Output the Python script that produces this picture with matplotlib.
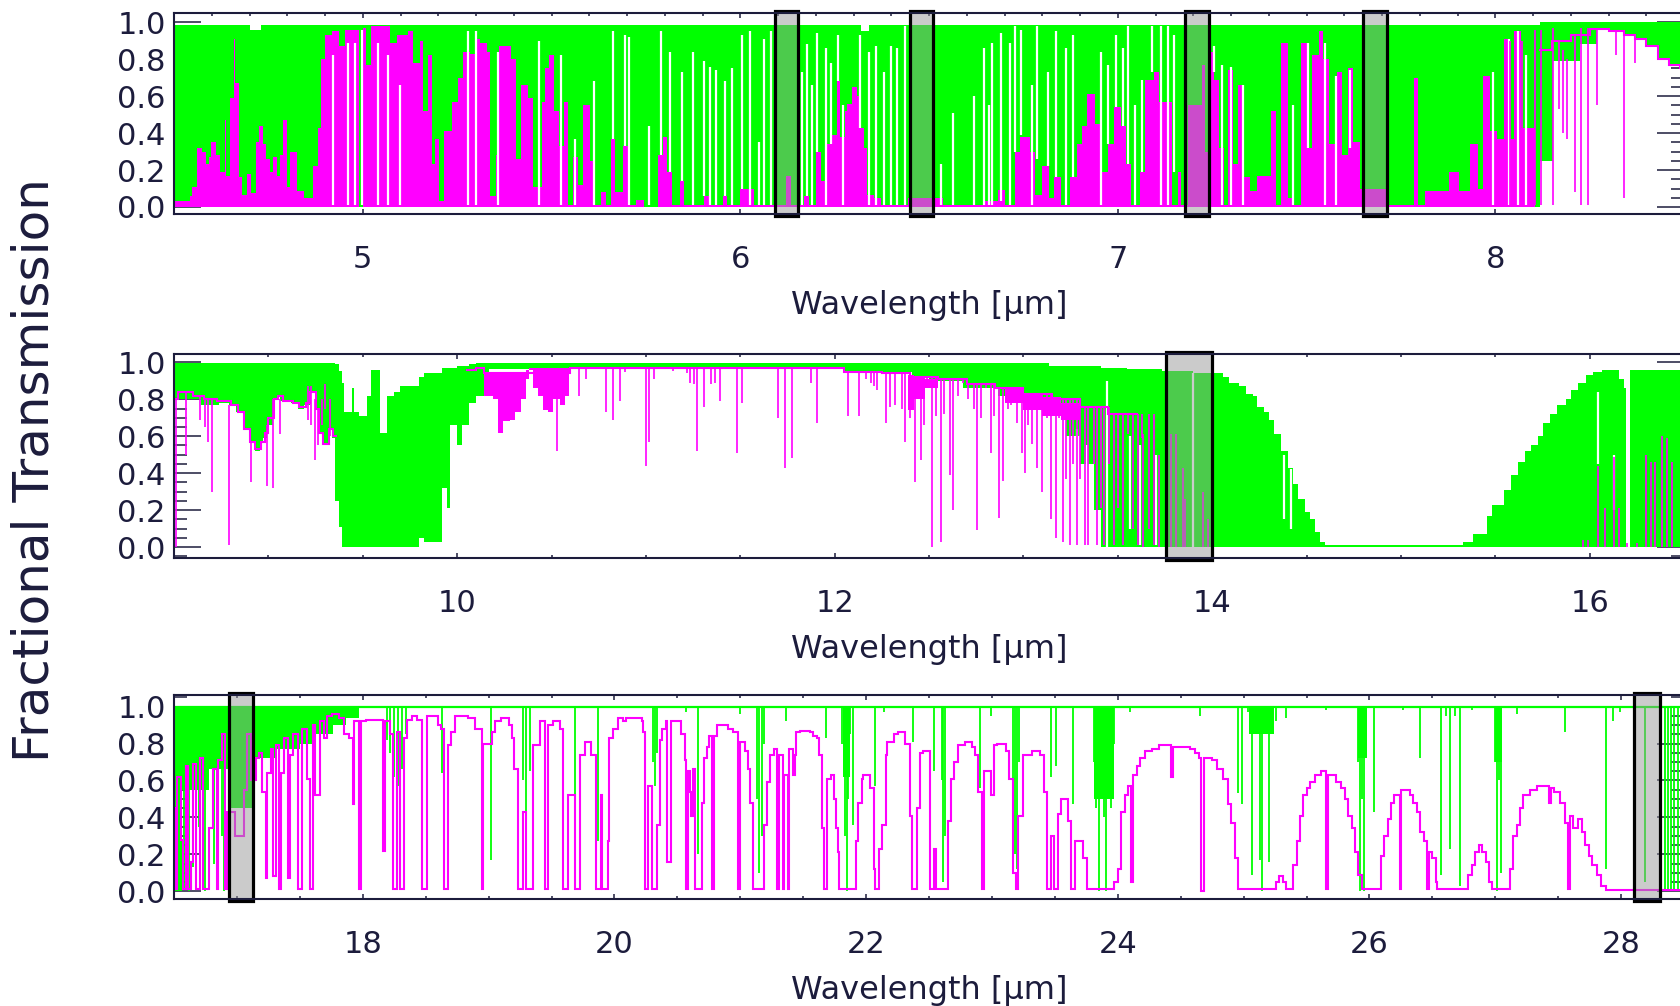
import numpy as np
import matplotlib
matplotlib.use("Agg")
import matplotlib.pyplot as plt
from matplotlib.patches import Rectangle
from matplotlib.ticker import MultipleLocator, FormatStrFormatter
import matplotlib.transforms as mtransforms

nan = np.nan
GREEN = '#00ff00'
MAGENTA = '#ff00ff'
INK = '#1c1c3c'

# ---------------------------------------------------------------- panel 1 (4.5 - 8.5 um)
P1_XLIM = (4.5, 8.5)
# green (dense) band: wavelength, lower, upper (step-post)
P1_GREEN_BAND = [(4.50, 0.0, 0.985), (4.70, 0.0, 0.96), (4.73, 0.0, 0.985), (6.32, 0.0, 0.95),
                 (6.34, 0.0, 0.985), (8.119, 0.25, 1.0), (8.154, 0.79, 1.0), (8.224, 0.88, 1.0),
                 (8.269, 0.96, 1.0), (8.30, 0.955, 1.0), (8.34, 0.93, 1.0), (8.37, 0.91, 1.0),
                 (8.40, 0.87, 1.0), (8.43, 0.80, 1.0), (8.46, 0.77, 1.0), (8.50, 0.75, 1.0)]
# magenta (dense) band: wavelength, upper value (from 0, step-post)
P1_MAGENTA_BAND = [
    (4.500, 0.03), (4.543, 0.06), (4.548, 0.11), (4.562, 0.32), (4.575, 0.30), (4.584, 0.23), (4.594, 0.27),
    (4.598, 0.35), (4.612, 0.28), (4.621, 0.19), (4.635, 0.47), (4.639, 0.165), (4.648, 0.59), (4.658, 0.91),
    (4.662, 0.67), (4.671, 0.16), (4.680, 0.066), (4.694, 0.18), (4.703, 0.075), (4.717, 0.35), (4.726, 0.44),
    (4.735, 0.34), (4.744, 0.26), (4.753, 0.19), (4.763, 0.27), (4.772, 0.17), (4.781, 0.28), (4.790, 0.47),
    (4.799, 0.11), (4.808, 0.30), (4.826, 0.084), (4.845, 0.05), (4.868, 0.22), (4.881, 0.43), (4.890, 0.80),
    (4.900, 0.93), (4.918, 0.955), (4.936, 0.87), (4.954, 0.96), (4.991, 0.0), (5.000, 0.97), (5.009, 0.77),
    (5.023, 0.98), (5.073, 0.89), (5.091, 0.93), (5.119, 0.955), (5.132, 0.78), (5.151, 0.90), (5.160, 0.52),
    (5.174, 0.82), (5.183, 0.23), (5.192, 0.37), (5.201, 0.03), (5.215, 0.41), (5.237, 0.57), (5.251, 0.70),
    (5.265, 0.84), (5.283, 0.83), (5.297, 0.91), (5.311, 0.89), (5.329, 0.84), (5.338, 0.06), (5.352, 0.28),
    (5.361, 0.87), (5.393, 0.80), (5.406, 0.26), (5.420, 0.66), (5.438, 0.59), (5.452, 0.11), (5.475, 0.57),
    (5.484, 0.75), (5.493, 0.82), (5.507, 0.52), (5.521, 0.33), (5.534, 0.57), (5.543, 0.01), (5.557, 0.27),
    (5.571, 0.12), (5.584, 0.55), (5.603, 0.25), (5.616, 0.01), (5.630, 0.08), (5.644, 0.01), (5.658, 0.37),
    (5.667, 0.08), (5.689, 0.33), (5.703, 0.01),
    (5.723, 0.04), (5.745, 0.0), (5.782, 0.28), (5.795, 0.38), (5.805, 0.19), (5.818, 0.01), (5.841, 0.14),
    (5.850, 0.01), (5.905, 0.06), (5.918, 0.01), (5.955, 0.06), (5.964, 0.01), (6.000, 0.10), (6.036, 0.01),
    (6.120, 0.17), (6.135, 0.01), (6.168, 0.06), (6.182, 0.01), (6.200, 0.30), (6.214, 0.14), (6.227, 0.34),
    (6.241, 0.39), (6.255, 0.68), (6.264, 0.38), (6.277, 0.52), (6.282, 0.56), (6.295, 0.65), (6.309, 0.60),
    (6.318, 0.43), (6.327, 0.32), (6.336, 0.066), (6.355, 0.05), (6.373, 0.01), (6.445, 0.05), (6.536, 0.01),
    (6.645, 0.03), (6.682, 0.09), (6.700, 0.01), (6.727, 0.30), (6.741, 0.38), (6.768, 0.30), (6.782, 0.066),
    (6.800, 0.22), (6.818, 0.05), (6.832, 0.16), (6.850, 0.01), (6.873, 0.16), (6.891, 0.34), (6.905, 0.44),
    (6.918, 0.61), (6.941, 0.45), (6.955, 0.19), (6.973, 0.34), (6.991, 0.54), (7.009, 0.44), (7.023, 0.23),
    (7.036, 0.01), (7.059, 0.19), (7.073, 0.69),
    (7.095, 0.73), (7.109, 0.57), (7.145, 0.01), (7.159, 0.19), (7.168, 0.01), (7.186, 0.55), (7.223, 0.77),
    (7.232, 0.30), (7.241, 0.84), (7.255, 0.69), (7.268, 0.32), (7.282, 0.01), (7.291, 0.74), (7.305, 0.23),
    (7.318, 0.66), (7.332, 0.16), (7.350, 0.084), (7.368, 0.17), (7.405, 0.52), (7.418, 0.01), (7.432, 0.89),
    (7.450, 0.05), (7.468, 0.01), (7.486, 0.89), (7.500, 0.32), (7.514, 0.82), (7.532, 0.955), (7.545, 0.80),
    (7.559, 0.34), (7.582, 0.73), (7.595, 0.28), (7.609, 0.75), (7.623, 0.35), (7.641, 0.10), (7.714, 0.01),
    (7.786, 0.70), (7.795, 0.01), (7.814, 0.084), (7.877, 0.19), (7.905, 0.084), (7.932, 0.34), (7.955, 0.10),
    (7.968, 0.71), (7.986, 0.41), (8.005, 0.37), (8.023, 0.91), (8.036, 0.37), (8.050, 0.95), (8.068, 0.43),
    (8.105, 0.0)]
# white gaps in the dense bands: wavelength, top, bottom
P1_GAPS = [
    (4.921, 0.82, 0.01), (4.961, 0.89, 0.01), (4.980, 0.89, 0.01), (4.997, 0.96, 0.01), (5.041, 0.89, 0.01),
    (5.067, 0.82, 0.01), (5.100, 0.66, 0.01), (5.279, 0.95, 0.01), (5.301, 0.955, 0.01), (5.358, 0.84, 0.01),
    (5.466, 0.90, 0.01), (5.525, 0.82, 0.01), (5.562, 0.37, 0.01), (5.612, 0.68, 0.01), (5.662, 0.95, 0.37),
    (5.694, 0.93, 0.33), (5.705, 0.92, 0.01), (5.759, 0.44, 0.01), (5.791, 0.955, 0.28), (5.814, 0.84, 0.19),
    (5.845, 0.73, 0.14), (5.875, 0.84, 0.01), (5.905, 0.79, 0.06), (5.920, 0.76, 0.01), (5.936, 0.74, 0.01),
    (5.959, 0.68, 0.06), (5.977, 0.75, 0.01), (6.005, 0.93, 0.10), (6.027, 0.955, 0.01), (6.050, 0.35, 0.01),
    (6.064, 0.91, 0.01), (6.082, 0.955, 0.01), (6.164, 0.73, 0.01), (6.177, 0.88, 0.057), (6.191, 0.66, 0.01),
    (6.202, 0.94, 0.30), (6.227, 0.86, 0.01), (6.241, 0.78, 0.34), (6.259, 0.93, 0.68), (6.273, 0.55, 0.01),
    (6.318, 0.93, 0.43), (6.341, 0.84, 0.01), (6.359, 0.87, 0.01), (6.382, 0.73, 0.01), (6.400, 0.87, 0.01),
    (6.414, 0.86, 0.01), (6.436, 0.98, 0.01), (6.532, 0.23, 0.01), (6.564, 0.51, 0.01), (6.618, 0.60, 0.01),
    (6.645, 0.86, 0.01), (6.659, 0.55, 0.01), (6.668, 0.89, 0.01), (6.691, 0.94, 0.03), (6.714, 0.89, 0.01),
    (6.727, 0.98, 0.30), (6.745, 0.96, 0.39), (6.773, 0.66, 0.01), (6.786, 0.98, 0.26), (6.814, 0.73, 0.22),
    (6.836, 0.955, 0.16), (6.864, 0.86, 0.01), (6.882, 0.93, 0.16), (6.955, 0.84, 0.01), (6.973, 0.77, 0.34),
    (6.995, 0.93, 0.54), (7.014, 0.86, 0.44), (7.027, 0.98, 0.23), (7.045, 0.55, 0.01), (7.064, 0.69, 0.19),
    (7.091, 0.98, 0.73), (7.114, 0.98, 0.01), (7.134, 0.98, 0.01), (7.150, 0.93, 0.19), (7.255, 0.87, 0.73),
    (7.277, 0.77, 0.01), (7.300, 0.76, 0.01), (7.332, 0.66, 0.01), (7.464, 0.55, 0.01), (7.505, 0.89, 0.32),
    (7.550, 0.89, 0.01), (7.577, 0.71, 0.01), (7.614, 0.74, 0.32), (7.995, 0.73, 0.01), (8.036, 0.91, 0.01),
    (8.059, 0.95, 0.01), (8.082, 0.82, 0.01)]
# magenta continuum beyond 8.1 um and its absorption lines
P1_MAGENTA_LINE = [(8.119, 0.85), (8.15, 0.90), (8.20, 0.93), (8.25, 0.965), (8.30, 0.955), (8.34, 0.93),
                   (8.37, 0.91), (8.40, 0.87), (8.43, 0.80), (8.46, 0.77), (8.49, 0.75), (8.50, 0.75)]
P1_MAGENTA_SPIKES = [(8.039, 0.01, 0.90), (8.07, 0.03, 0.90), (8.105, 0.01, 0.96), (8.12, 0.01, 0.96),
                     (8.154, 0.01, 0.97), (8.17, 0.53, 0.90), (8.18, 0.40, 0.85), (8.19, 0.37, 0.80),
                     (8.21, 0.08, 0.93), (8.226, 0.01, 0.97), (8.245, 0.01, 0.97), (8.27, 0.55, 0.96),
                     (8.32, 0.82, 0.95), (8.34, 0.05, 0.94), (8.37, 0.78, 0.91)]
P1_BOXES = [(6.093, 6.153), (6.450, 6.510), (7.178, 7.242), (7.650, 7.712)]

# ---------------------------------------------------------------- panel 2 (8.5 - 16.5 um)
P2_XLIM = (8.5, 16.5)
P2_GREEN_BAND = [
    (8.50, 0.80, 0.995), (8.645, 0.77, 0.995), (8.736, 0.78, 0.995), (8.791, 0.77, 0.995), (8.827, 0.73, 0.995),
    (8.864, 0.64, 0.995), (8.900, 0.57, 0.995), (8.927, 0.52, 0.995), (8.955, 0.57, 0.995), (8.973, 0.59, 0.995),
    (8.991, 0.66, 0.995), (9.027, 0.80, 0.995), (9.045, 0.82, 0.995), (9.064, 0.79, 0.995), (9.118, 0.78, 0.995),
    (9.155, 0.75, 0.995), (9.191, 0.77, 0.995), (9.218, 0.84, 0.995), (9.245, 0.75, 0.995), (9.264, 0.62, 0.995),
    (9.282, 0.55, 0.995), (9.318, 0.64, 0.995), (9.336, 0.59, 0.995), (9.355, 0.25, 0.99), (9.373, 0.11, 0.955),
    (9.391, 0.0, 0.89), (9.400, 0.0, 0.73), (9.445, 0.0, 0.86), (9.455, 0.0, 0.73), (9.482, 0.0, 0.71),
    (9.520, 0.0, 0.82), (9.545, 0.0, 0.96), (9.591, 0.0, 0.62), (9.627, 0.0, 0.82), (9.664, 0.0, 0.84),
    (9.700, 0.0, 0.87), (9.800, 0.05, 0.92), (9.827, 0.03, 0.94), (9.918, 0.32, 0.97), (9.945, 0.21, 0.97),
    (9.964, 0.66, 0.97), (10.000, 0.55, 0.98), (10.027, 0.66, 0.98), (10.064, 0.78, 0.99), (10.100, 0.82, 0.995),
    (10.145, 0.86, 0.995), (10.170, 0.965, 0.995), (12.045, 0.95, 0.995), (12.409, 0.92, 0.995),
    (12.500, 0.90, 0.995), (12.682, 0.86, 0.995), (12.864, 0.82, 0.995), (13.045, 0.77, 0.995),
    (13.136, 0.72, 0.98), (13.227, 0.60, 0.98), (13.300, 0.45, 0.98), (13.373, 0.20, 0.98), (13.409, 0.0, 0.97),
    (13.55, 0.0, 0.965), (13.736, 0.0, 0.955), (13.90, 0.0, 0.94), (14.055, 0.0, 0.92), (14.091, 0.0, 0.89),
    (14.145, 0.0, 0.87), (14.182, 0.0, 0.83), (14.218, 0.0, 0.82), (14.236, 0.0, 0.76), (14.273, 0.0, 0.73),
    (14.300, 0.0, 0.69), (14.327, 0.0, 0.61), (14.364, 0.0, 0.52), (14.400, 0.0, 0.43), (14.427, 0.0, 0.34),
    (14.455, 0.0, 0.26), (14.491, 0.0, 0.19), (14.518, 0.0, 0.15), (14.545, 0.0, 0.08), (14.573, 0.0, 0.03),
    (14.600, 0.0, 0.012), (15.327, 0.0, 0.03), (15.382, 0.0, 0.07), (15.455, 0.0, 0.17), (15.482, 0.0, 0.23),
    (15.545, 0.0, 0.31), (15.582, 0.0, 0.39), (15.618, 0.0, 0.46), (15.655, 0.0, 0.52), (15.691, 0.0, 0.55),
    (15.727, 0.0, 0.60), (15.755, 0.0, 0.67), (15.791, 0.0, 0.72), (15.827, 0.0, 0.77), (15.873, 0.0, 0.80),
    (15.900, 0.0, 0.85), (15.936, 0.0, 0.89), (15.982, 0.0, 0.93), (16.018, 0.0, 0.95), (16.064, 0.0, 0.96),
    (16.155, 0.0, 0.91), (16.182, 0.0, 0.86), (16.195, 0.0, 0.0), (16.212, 0.0, 0.96), (16.50, 0.0, 0.96)]
P2_GAPS = [(13.282, 0.64, 0.45), (13.336, 0.55, 0.28), (13.445, 0.90, 0.0), (13.564, 0.60, 0.10),
           (13.618, 0.55, 0.01), (13.70, 0.50, 0.01), (13.90, 0.94, 0.0), (14.38, 0.50, 0.15),
           (14.418, 0.42, 0.10), (16.045, 0.84, 0.45), (16.127, 0.50, 0.20)]
P2_MAGENTA_LINE = [
    (8.50, 0.80), (8.52, 0.84), (8.60, 0.82), (8.66, 0.80), (8.73, 0.79), (8.80, 0.77), (8.84, 0.73),
    (8.87, 0.64), (8.90, 0.57), (8.93, 0.53), (8.96, 0.57), (8.98, 0.62), (9.00, 0.70), (9.03, 0.80),
    (9.05, 0.82), (9.08, 0.79), (9.13, 0.78), (9.16, 0.76), (9.20, 0.78), (9.22, 0.84), (9.25, 0.75),
    (9.27, 0.62), (9.29, 0.56), (9.32, 0.64), (9.34, 0.60), (9.36, nan),
    (10.05, 0.96), (10.10, 0.97), (10.145, 0.94), (10.60, 0.97), (12.00, 0.97), (12.05, 0.95), (12.25, 0.94),
    (12.40, 0.92), (12.55, 0.91), (12.70, 0.88), (12.85, 0.86), (13.00, 0.83), (13.15, 0.80), (13.30, 0.76),
    (13.45, 0.72), (13.60, nan)]
P2_MAGENTA_BAND = [
    (10.145, 0.82, 0.94), (10.191, 0.80, 0.94), (10.218, 0.62, 0.94), (10.245, 0.68, 0.94), (10.282, 0.69, 0.94),
    (10.309, 0.73, 0.95), (10.336, 0.80, 0.95), (10.364, 0.91, 0.96), (10.382, 0.96, 0.97), (10.400, 0.86, 0.97),
    (10.427, 0.82, 0.97), (10.455, 0.74, 0.97), (10.482, 0.73, 0.97), (10.509, 0.80, 0.97), (10.545, 0.77, 0.97),
    (10.573, 0.82, 0.97), (10.591, 0.97, 0.97), (nan, nan, nan),
    (12.39, 0.74, 0.93), (12.42, 0.80, 0.92), (12.48, 0.86, 0.91), (12.55, 0.86, 0.91), (nan, nan, nan),
    (12.90, 0.78, 0.86), (13.00, 0.74, 0.83), (13.10, 0.71, 0.81), (13.20, 0.69, 0.78), (13.30, 0.69, 0.78)]
P2_MAGENTA_SPIKES = [
    (8.509, 0.0, 0.80), (8.564, 0.50, 0.84), (8.636, 0.69, 0.82), (8.664, 0.65, 0.80), (8.682, 0.57, 0.80),
    (8.700, 0.30, 0.80), (8.791, 0.01, 0.77), (8.909, 0.35, 0.57), (8.991, 0.33, 0.66), (9.027, 0.32, 0.80),
    (9.064, 0.61, 0.80), (9.209, 0.69, 0.87), (9.227, 0.66, 0.87), (9.245, 0.47, 0.80), (9.264, 0.55, 0.75),
    (9.282, 0.66, 0.80), (9.300, 0.75, 0.88), (9.327, 0.60, 0.80),
    (10.527, 0.52, 0.97), (10.645, 0.82, 0.97), (10.682, 0.91, 0.97), (10.791, 0.73, 0.97), (10.827, 0.69, 0.97),
    (10.864, 0.79, 0.97), (10.891, 0.95, 0.97), (11.0, 0.44, 0.97), (11.018, 0.57, 0.97), (11.045, 0.91, 0.97),
    (11.145, 0.955, 0.97), (11.218, 0.94, 0.97), (11.236, 0.89, 0.97), (11.255, 0.88, 0.97), (11.273, 0.52, 0.97),
    (11.309, 0.76, 0.97), (11.345, 0.88, 0.97), (11.364, 0.89, 0.97), (11.391, 0.79, 0.97), (11.482, 0.51, 0.97),
    (11.509, 0.78, 0.97), (11.700, 0.70, 0.97), (11.736, 0.43, 0.97), (11.773, 0.48, 0.97), (11.873, 0.89, 0.97),
    (11.909, 0.67, 0.97),
    (12.073, 0.71, 0.95), (12.127, 0.71, 0.95), (12.164, 0.91, 0.95), (12.191, 0.89, 0.95), (12.209, 0.87, 0.95),
    (12.227, 0.85, 0.95), (12.273, 0.67, 0.94), (12.291, 0.76, 0.94), (12.318, 0.77, 0.94), (12.355, 0.75, 0.94),
    (12.373, 0.57, 0.94), (12.400, 0.70, 0.92), (12.427, 0.35, 0.92), (12.455, 0.47, 0.92), (12.473, 0.66, 0.92),
    (12.491, 0.86, 0.92), (12.518, 0.0, 0.92), (12.536, 0.71, 0.92), (12.564, 0.03, 0.91), (12.582, 0.72, 0.91),
    (12.609, 0.39, 0.91), (12.627, 0.20, 0.91), (12.655, 0.82, 0.91), (12.682, 0.89, 0.91), (12.709, 0.80, 0.88),
    (12.736, 0.75, 0.88), (12.755, 0.09, 0.88), (12.773, 0.70, 0.88), (12.800, 0.86, 0.88), (12.827, 0.51, 0.88),
    (12.845, 0.71, 0.88), (12.873, 0.16, 0.86), (12.891, 0.36, 0.86), (12.918, 0.75, 0.86), (12.936, 0.77, 0.86),
    (12.964, 0.67, 0.86), (12.991, 0.51, 0.86), (13.009, 0.40, 0.83), (13.027, 0.66, 0.83), (13.045, 0.56, 0.83),
    (13.073, 0.43, 0.83), (13.100, 0.30, 0.83), (13.127, 0.70, 0.83), (13.145, 0.15, 0.83), (13.173, 0.05, 0.80),
    (13.191, 0.70, 0.80), (13.209, 0.03, 0.80), (13.227, 0.37, 0.80), (13.245, 0.01, 0.80), (13.264, 0.45, 0.80),
    (13.282, 0.01, 0.80), (13.300, 0.37, 0.80), (13.327, 0.01, 0.76), (13.345, 0.01, 0.76), (13.373, 0.45, 0.76),
    (13.391, 0.01, 0.76), (13.409, 0.21, 0.76), (13.427, 0.01, 0.76), (13.455, 0.45, 0.76), (13.482, 0.01, 0.72),
    (13.500, 0.21, 0.72), (13.527, 0.01, 0.72), (13.555, 0.61, 0.72), (13.582, 0.10, 0.72), (13.609, 0.01, 0.72),
    (13.627, 0.59, 0.72), (13.664, 0.10, 0.72), (13.691, 0.01, 0.72),
    (13.636, 0.0, 0.61), (13.718, 0.0, 0.50), (13.782, 0.0, 0.61), (13.809, 0.0, 0.61), (13.845, 0.0, 0.43),
    (13.855, 0.0, 0.26), (13.95, 0.0, 0.30), (13.98, 0.0, 0.15),
    (15.964, 0.0, 0.04), (15.991, 0.0, 0.04), (16.045, 0.0, 0.44), (16.082, 0.0, 0.21), (16.127, 0.0, 0.49),
    (16.155, 0.0, 0.21), (16.20, 0.0, 0.02), (16.25, 0.0, 0.02), (16.30, 0.0, 0.50), (16.327, 0.0, 0.46),
    (16.345, 0.0, 0.46), (16.382, 0.0, 0.60), (16.409, 0.0, 0.59), (16.436, 0.0, 0.46)]
P2_BOXES = [(13.755, 14.0)]

# ---------------------------------------------------------------- panel 3 (16.5 - 28.5 um)
P3_XLIM = (16.5, 28.5)
P3_GREEN_BAND = [
    (16.50, 0.0, 1.0), (16.56, 0.55, 1.0), (16.78, 0.66, 1.0), (16.935, 0.45, 1.0), (17.13, 0.72, 1.0),
    (17.30, 0.77, 1.0), (17.50, 0.80, 1.0), (17.62, 0.85, 1.0), (17.76, 0.90, 1.0), (17.87, 0.94, 1.0),
    (17.97, 0.94, 1.0), (nan, nan, nan),
    (21.82, 0.62, 1.0), (21.87, 0.62, 1.0), (nan, nan, nan),
    (23.81, 0.50, 1.0), (23.97, 0.50, 1.0), (nan, nan, nan),
    (25.04, 0.85, 1.0), (25.24, 0.85, 1.0), (nan, nan, nan),
    (25.91, 0.72, 1.0), (25.98, 0.72, 1.0), (nan, nan, nan),
    (27.00, 0.70, 1.0), (27.05, 0.70, 1.0)]
P3_GREEN_TOP = [(16.50, 1.0), (28.50, 1.0)]
# green absorption lines: wavelength, minimum transmission
P3_GREEN_DIPS = [
    (16.58, 0.02), (16.62, 0.0), (16.65, 0.13), (16.70, 0.35), (16.75, 0.0), (16.82, 0.15), (16.88, 0.30),
    (16.90, 0.0), (18.19, 0.82), (18.22, 0.75), (18.25, 0.62), (18.28, 0.57), (18.31, 0.66), (18.34, 0.85),
    (18.63, 0.64), (19.02, 0.17), (19.27, 0.60), (19.30, 0.43), (19.33, 0.65), (19.69, 0.09), (19.87, 0.27),
    (20.31, 0.70), (20.325, 0.57), (20.34, 0.75), (20.571, 0.97), (20.667, 0.20), (20.995, 0.96), (21.13, 0.50),
    (21.15, 0.10), (21.17, 0.30), (21.19, 0.80), (21.363, 0.92), (21.678, 0.83), (21.81, 0.80), (21.83, 0.30),
    (21.845, 0.0), (21.86, 0.50), (21.875, 0.85), (21.896, 0.36), (22.074, 0.57), (22.142, 0.97), (22.374, 0.81),
    (22.538, 0.65), (22.60, 0.60), (22.615, 0.05), (22.63, 0.30), (22.907, 0.56), (22.989, 0.95), (23.17, 0.60),
    (23.185, 0.20), (23.20, 0.12), (23.215, 0.70), (23.467, 0.62), (23.508, 0.68), (23.645, 0.47), (23.81, 0.70),
    (23.83, 0.45), (23.85, 0.0), (23.87, 0.50), (23.89, 0.40), (23.91, 0.0), (23.93, 0.50), (23.95, 0.45),
    (23.97, 0.80), (24.096, 0.97), (24.656, 0.95), (24.956, 0.53), (24.984, 0.47), (25.038, 0.97), (25.066, 0.09),
    (25.107, 0.97), (25.134, 0.17), (25.148, 0.0), (25.175, 0.97), (25.202, 0.16), (25.23, 0.99), (25.257, 0.92),
    (25.339, 0.94), (25.653, 0.98), (25.91, 0.70), (25.925, 0.0), (25.94, 0.50), (25.955, 0.0), (25.97, 0.80),
    (26.036, 0.43), (26.268, 0.98), (26.404, 0.72), (26.568, 0.09), (26.609, 0.95), (26.637, 0.23), (26.678, 0.95),
    (26.719, 0.03), (26.814, 0.98), (27.0, 0.70), (27.015, 0.0), (27.03, 0.60), (27.045, 0.10), (27.169, 0.96),
    (27.552, 0.86), (27.880, 0.12), (27.934, 0.92), (27.989, 0.97), (28.194, 0.05), (28.35, 0.0), (28.37, 0.0),
    (28.40, 0.0), (28.42, 0.0), (28.45, 0.0)]
P3_MAGENTA_LINE = [
    (16.50, 0.45), (16.515, 0.01), (16.527, 0.62), (16.554, 0.28), (16.570, 0.01), (16.595, 0.68), (16.608, 0.01),
    (16.635, 0.16), (16.649, 0.69), (16.676, 0.01), (16.703, 0.72), (16.730, 0.01), (16.778, 0.34), (16.811, 0.66),
    (16.838, 0.01), (16.851, 0.71), (16.878, 0.85), (16.905, 0.01), (16.924, 0.43), (16.986, 0.30), (17.054, 0.55),
    (17.081, 0.85), (17.110, 0.60), (17.149, 0.72), (17.176, 0.75), (17.203, 0.54), (17.230, 0.07), (17.243, 0.64),
    (17.270, 0.77), (17.284, 0.08), (17.311, 0.79), (17.338, 0.01), (17.351, 0.64), (17.378, 0.83), (17.405, 0.07),
    (17.419, 0.74), (17.446, 0.85), (17.486, 0.01), (17.514, 0.88), (17.554, 0.61), (17.581, 0.01), (17.608, 0.90),
    (17.622, 0.52), (17.662, 0.92), (17.689, 0.83), (17.716, 0.95), (17.757, 0.96), (17.811, 0.94), (17.851, 0.85),
    (17.892, 0.83), (17.919, 0.47), (17.932, 0.92), (17.973, 0.01), (17.990, 0.92), (18.027, 0.93), (18.081, 0.93),
    (18.135, 0.93), (18.162, 0.22), (18.175, 0.92), (18.216, 0.85), (18.243, 0.01), (18.270, 0.86), (18.297, 0.01),
    (18.324, 0.83), (18.351, 0.93), (18.392, 0.95), (18.432, 0.93), (18.473, 0.01), (18.514, 0.95), (18.554, 0.95),
    (18.595, 0.90), (18.622, 0.88), (18.649, 0.01), (18.676, 0.79), (18.703, 0.86), (18.730, 0.95), (18.784, 0.95),
    (18.838, 0.94), (18.892, 0.88), (18.946, 0.01), (18.959, 0.80), (19.027, 0.86), (19.054, 0.92), (19.095, 0.94),
    (19.162, 0.90), (19.189, 0.83), (19.203, 0.66), (19.230, 0.01), (19.270, 0.43), (19.297, 0.01), (19.351, 0.79),
    (19.405, 0.92), (19.446, 0.01), (19.473, 0.90), (19.514, 0.92), (19.568, 0.88), (19.595, 0.01), (19.635, 0.52),
    (19.689, 0.01), (19.730, 0.74), (19.770, 0.81), (19.811, 0.74), (19.851, 0.01), (19.892, 0.52), (19.905, 0.01),
    (19.946, 0.27), (19.959, 0.83), (19.986, 0.88), (20.027, 0.94), (20.066, 0.92), (20.093, 0.94), (20.216, 0.92),
    (20.230, 0.86), (20.243, 0.01), (20.270, 0.57), (20.298, 0.01), (20.339, 0.36), (20.361, 0.82), (20.380, 0.88),
    (20.407, 0.92), (20.421, 0.16), (20.448, 0.92), (20.530, 0.85), (20.557, 0.71), (20.571, 0.01), (20.585, 0.65),
    (20.598, 0.54), (20.612, 0.41), (20.626, 0.66), (20.639, 0.01), (20.694, 0.48), (20.708, 0.72), (20.735, 0.78),
    (20.749, 0.84), (20.776, 0.01), (20.790, 0.84), (20.817, 0.90), (20.899, 0.88), (20.940, 0.86), (20.981, 0.01),
    (20.995, 0.81), (21.036, 0.76), (21.063, 0.66), (21.077, 0.48), (21.104, 0.01), (21.186, 0.36), (21.213, 0.59),
    (21.240, 0.74), (21.268, 0.77), (21.295, 0.01), (21.309, 0.74), (21.336, 0.01), (21.350, 0.63), (21.377, 0.01),
    (21.391, 0.77), (21.418, 0.63), (21.432, 0.74), (21.445, 0.86), (21.473, 0.87), (21.555, 0.86), (21.582, 0.84),
    (21.609, 0.83), (21.623, 0.74), (21.650, 0.34), (21.664, 0.01), (21.691, 0.61), (21.719, 0.63), (21.746, 0.50),
    (21.760, 0.34), (21.773, 0.21), (21.787, 0.01), (21.923, 0.27), (21.937, 0.48), (21.964, 0.61), (21.978, 0.63),
    (22.033, 0.56), (22.060, 0.12), (22.074, 0.01), (22.101, 0.23), (22.128, 0.36), (22.156, 0.74), (22.169, 0.81),
    (22.224, 0.85), (22.251, 0.86), (22.306, 0.80), (22.347, 0.41), (22.361, 0.01), (22.402, 0.45), (22.429, 0.75),
    (22.456, 0.76), (22.511, 0.01), (22.538, 0.23), (22.552, 0.01), (22.648, 0.38), (22.675, 0.61), (22.702, 0.70),
    (22.730, 0.79), (22.784, 0.81), (22.839, 0.78), (22.866, 0.74), (22.893, 0.54), (22.921, 0.01), (22.934, 0.65),
    (22.989, 0.52), (23.016, 0.79), (23.044, 0.80), (23.112, 0.76), (23.139, 0.61), (23.167, 0.10), (23.194, 0.01),
    (23.208, 0.41), (23.249, 0.74), (23.317, 0.76), (23.385, 0.74), (23.413, 0.54), (23.440, 0.01), (23.467, 0.30),
    (23.495, 0.01), (23.522, 0.42), (23.549, 0.50), (23.604, 0.38), (23.631, 0.01), (23.658, 0.27), (23.727, 0.18),
    (23.754, 0.01), (23.973, 0.05), (24.000, 0.12), (24.027, 0.43), (24.055, 0.52), (24.082, 0.57), (24.109, 0.05),
    (24.123, 0.63), (24.150, 0.68), (24.178, 0.72), (24.219, 0.76), (24.273, 0.77), (24.328, 0.79), (24.423, 0.62),
    (24.437, 0.78), (24.574, 0.77), (24.615, 0.75), (24.642, 0.72), (24.664, 0.0), (24.683, 0.72), (24.751, 0.71),
    (24.792, 0.66), (24.833, 0.61), (24.874, 0.47), (24.902, 0.37), (24.929, 0.18), (24.956, 0.01), (25.257, 0.05),
    (25.284, 0.08), (25.311, 0.05), (25.339, 0.01), (25.393, 0.14), (25.421, 0.27), (25.448, 0.41), (25.475, 0.52),
    (25.503, 0.56), (25.530, 0.59), (25.571, 0.63), (25.612, 0.65), (25.653, 0.01), (25.667, 0.63), (25.735, 0.59),
    (25.776, 0.56), (25.803, 0.50), (25.831, 0.41), (25.858, 0.34), (25.885, 0.21), (25.913, 0.09), (25.940, 0.01),
    (26.090, 0.19), (26.117, 0.30), (26.145, 0.39), (26.172, 0.48), (26.199, 0.52), (26.240, 0.01), (26.254, 0.55),
    (26.322, 0.52), (26.350, 0.48), (26.377, 0.43), (26.404, 0.32), (26.432, 0.27), (26.459, 0.01), (26.473, 0.21),
    (26.500, 0.18), (26.527, 0.05), (26.541, 0.01), (26.787, 0.09), (26.814, 0.14), (26.842, 0.21), (26.869, 0.25),
    (26.896, 0.21), (26.923, 0.16), (26.951, 0.05), (26.978, 0.01), (27.115, 0.12), (27.142, 0.30), (27.169, 0.36),
    (27.197, 0.45), (27.224, 0.52), (27.279, 0.55), (27.333, 0.57), (27.429, 0.48), (27.443, 0.56), (27.470, 0.54),
    (27.511, 0.48), (27.552, 0.37), (27.579, 0.01), (27.593, 0.41), (27.620, 0.34), (27.661, 0.39), (27.689, 0.32),
    (27.716, 0.25), (27.743, 0.19), (27.770, 0.14), (27.811, 0.09), (27.839, 0.03), (27.880, 0.008), (28.50, 0.008)]
P3_BOXES = [(16.935, 17.13), (28.10, 28.31)]

X_LABEL = 'Wavelength [\u03bcm]'
Y_LABEL = 'Fractional Transmission'

# ---------------------------------------------------------------- helpers
def cols(rows):
    a = np.array(rows, dtype=float)
    return [a[:, i] for i in range(a.shape[1])]


def split_nan(*arrs):
    x = arrs[0]
    bad = np.where(np.isnan(x))[0]
    starts = np.r_[0, bad + 1]
    ends = np.r_[bad, len(x)]
    for s, e in zip(starts, ends):
        if e - s >= 2:
            yield [a[s:e] for a in arrs]


def band(ax, rows, color, z):
    x, lo, hi = cols(rows)
    for xs, l, h in split_nan(x, lo, hi):
        ax.fill_between(xs, l, h, step='post', color=color, lw=0, zorder=z, antialiased=False)


def band0(ax, rows, color, z):
    x, hi = cols(rows)
    ax.fill_between(x, np.zeros_like(hi), hi, step='post', color=color, lw=0, zorder=z, antialiased=False)


def stepline(ax, rows, color, z, lw=1.5):
    x, y = cols(rows)
    ax.plot(x, y, drawstyle='steps-post', color=color, lw=lw, zorder=z, solid_joinstyle='miter')


def spikes(ax, rows, color, z, lw=1.2):
    x, lo, hi = cols(rows)
    ax.vlines(x, lo, hi, colors=color, lw=lw, zorder=z)


def gaps(ax, rows, z):
    x, top, bot = cols(rows)
    ax.vlines(x, bot, top, colors='white', lw=1.6, zorder=z)


def boxes(ax, spans):
    tr = mtransforms.blended_transform_factory(ax.transData, ax.transAxes)
    for a, b in spans:
        ax.add_patch(Rectangle((a, -0.012), b - a, 1.024, transform=tr, facecolor=(0.6, 0.6, 0.6, 0.5),
                               edgecolor='black', lw=2.3, clip_on=False, zorder=8))


def style(ax, xlim, ylim, xmaj, xmin, bottom_minor=True):
    ax.set_xlim(*xlim)
    ax.set_ylim(*ylim)
    ax.set_axisbelow(True)
    ax.xaxis.set_major_locator(MultipleLocator(xmaj))
    ax.xaxis.set_minor_locator(MultipleLocator(xmin))
    ax.yaxis.set_major_locator(MultipleLocator(0.2))
    ax.yaxis.set_minor_locator(MultipleLocator(0.05))
    ax.yaxis.set_major_formatter(FormatStrFormatter('%.1f'))
    ax.xaxis.set_major_formatter(FormatStrFormatter('%d'))
    ax.tick_params(axis='both', which='both', direction='in', colors=INK, top=True, right=True,
                   labelsize=22, width=1.1)
    ax.tick_params(axis='x', which='major', length=3.5, pad=22)
    ax.tick_params(axis='x', which='minor', length=2.2)
    ax.tick_params(axis='y', which='major', length=19.5, pad=6)
    ax.tick_params(axis='y', which='minor', length=9.5)
    if not bottom_minor:
        ax.tick_params(axis='x', which='minor', bottom=False)
    for s in ax.spines.values():
        s.set_color(INK)
        s.set_linewidth(1.5)
        s.set_zorder(9)
    ax.set_xlabel(X_LABEL, fontsize=23, color=INK, labelpad=12)
    for lab in ax.get_xticklabels() + ax.get_yticklabels():
        lab.set_color(INK)


# ---------------------------------------------------------------- figure
plt.rcParams['font.family'] = ['DejaVu Sans']
fig = plt.figure(figsize=(16.8, 10.06), dpi=100)
L, W = 174 / 1680, 1510 / 1680
ax1 = fig.add_axes([L, 1 - 214 / 1006, W, 201 / 1006])
ax2 = fig.add_axes([L, 1 - 558 / 1006, W, 204 / 1006])
ax3 = fig.add_axes([L, 1 - 899 / 1006, W, 204 / 1006])

# panel 1
band(ax1, P1_GREEN_BAND, GREEN, 2.0)
band0(ax1, P1_MAGENTA_BAND, MAGENTA, 2.2)
gaps(ax1, P1_GAPS, 2.4)
stepline(ax1, P1_MAGENTA_LINE, MAGENTA, 2.6)
spikes(ax1, P1_MAGENTA_SPIKES, MAGENTA, 2.6)
boxes(ax1, P1_BOXES)
style(ax1, P1_XLIM, (-0.038, 1.05), 1, 0.1, bottom_minor=False)

# panel 2
band(ax2, P2_GREEN_BAND, GREEN, 2.0)
gaps(ax2, P2_GAPS, 2.1)
band(ax2, P2_MAGENTA_BAND, MAGENTA, 2.3)
stepline(ax2, P2_MAGENTA_LINE, MAGENTA, 2.4)
spikes(ax2, P2_MAGENTA_SPIKES, MAGENTA, 2.5)
boxes(ax2, P2_BOXES)
style(ax2, P2_XLIM, (-0.059, 1.045), 2, 0.5)

# panel 3
band(ax3, P3_GREEN_BAND, GREEN, 2.0)
stepline(ax3, P3_GREEN_TOP, GREEN, 2.1, lw=1.6)
gx, gy = cols(P3_GREEN_DIPS)
ax3.vlines(gx, gy, np.ones_like(gy), colors=GREEN, lw=1.3, zorder=2.1)
stepline(ax3, P3_MAGENTA_LINE, MAGENTA, 2.5, lw=1.5)
boxes(ax3, P3_BOXES)
style(ax3, P3_XLIM, (-0.042, 1.063), 2, 0.5)

fig.text(35 / 1680, 1 - 470 / 1006, Y_LABEL, rotation=90, fontsize=36, color=INK,
         ha='center', va='center')

fig.savefig('out.png', dpi=100)
